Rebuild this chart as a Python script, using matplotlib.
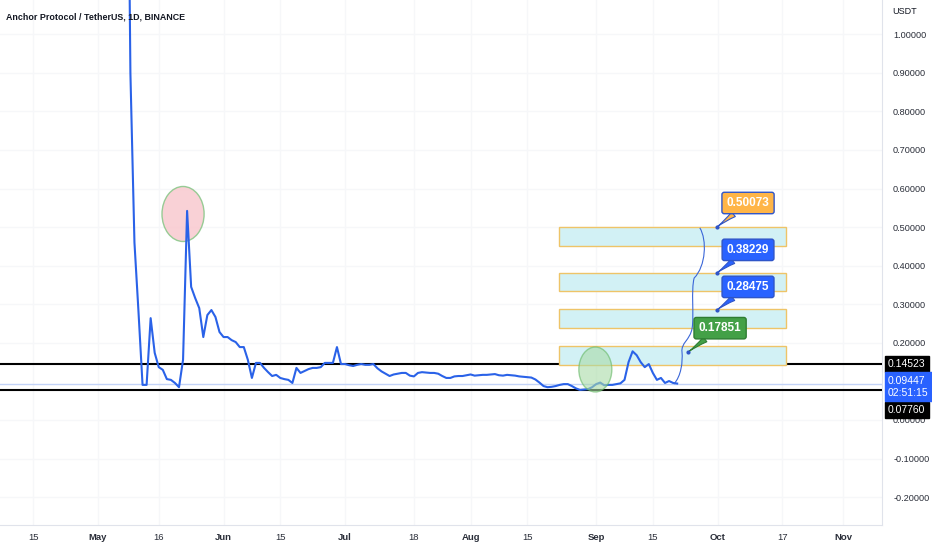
import datetime as dt

import matplotlib
matplotlib.use('Agg')
import matplotlib.pyplot as plt
import matplotlib.dates as mdates
import matplotlib.transforms as mtransforms
from matplotlib.patches import Ellipse, Rectangle, PathPatch
from matplotlib.path import Path

# --- data -----------------------------------------------------------------
start_date = dt.datetime(2022, 5, 8)
prices = [
    2.0, 0.90, 0.46, 0.28, 0.091, 0.091, 0.264, 0.174, 0.137, 0.130,
    0.106, 0.104, 0.096, 0.085, 0.156, 0.542, 0.345, 0.316, 0.290, 0.215,
    0.272, 0.285, 0.267, 0.228, 0.215, 0.215, 0.207, 0.202, 0.189, 0.189,
    0.156, 0.109, 0.148, 0.148, 0.135, 0.124, 0.114, 0.117, 0.109, 0.106,
    0.104, 0.096, 0.135, 0.122, 0.127, 0.132, 0.135, 0.135, 0.137, 0.148,
    0.148, 0.148, 0.189, 0.145, 0.145, 0.142, 0.140, 0.143, 0.145, 0.143,
    0.143, 0.145, 0.134, 0.126, 0.120, 0.114, 0.118, 0.120, 0.122, 0.122,
    0.115, 0.113, 0.122, 0.124, 0.123, 0.122, 0.122, 0.120, 0.114, 0.109,
    0.109, 0.113, 0.114, 0.114, 0.116, 0.118, 0.115, 0.116, 0.117, 0.117,
    0.118, 0.119, 0.116, 0.115, 0.117, 0.116, 0.115, 0.113, 0.112, 0.111,
    0.110, 0.105, 0.097, 0.088, 0.085, 0.086, 0.088, 0.091, 0.093, 0.093,
    0.088, 0.082, 0.078, 0.079, 0.080, 0.085, 0.093, 0.097, 0.090, 0.091,
    0.091, 0.093, 0.095, 0.104, 0.150, 0.178, 0.168, 0.150, 0.137, 0.145,
    0.122, 0.104, 0.109, 0.096, 0.101, 0.096, 0.09447,
]
dates = [start_date + dt.timedelta(days=i) for i in range(len(prices))]

tick_dates = ['2022-04-15', '2022-05-01', '2022-05-16', '2022-06-01',
              '2022-06-15', '2022-07-01', '2022-07-18', '2022-08-01',
              '2022-08-15', '2022-09-01', '2022-09-15', '2022-10-01',
              '2022-10-17', '2022-11-01']
tick_labels = ['15', 'May', '16', 'Jun', '15', 'Jul', '18', 'Aug',
               '15', 'Sep', '15', 'Oct', '17', 'Nov']
y_ticks = [1.0, 0.9, 0.8, 0.7, 0.6, 0.5, 0.4, 0.3, 0.2, 0.0, -0.1, -0.2]

support = 0.07760
resistance = 0.14523
last_price = 0.09447
countdown = '02:51:15'

fib_low = [0.143, 0.238, 0.334, 0.451]
fib_high = [0.192, 0.288, 0.381, 0.500]
fib_labels = ['0.17851', '0.28475', '0.38229', '0.50073']
fib_colors = ['#43a047', '#2962ff', '#2962ff', '#ffb547']

plt.rcParams['font.family'] = ['Liberation Sans', 'DejaVu Sans']

txt_color = '#131722'
grid_color = '#f6f7f9'
line_color = '#2a62e8'

fig = plt.figure(figsize=(9.32, 5.5), dpi=100)
ax = fig.add_axes([0, 25 / 550, 882 / 932, 525 / 550])

may1 = mdates.date2num(dt.datetime(2022, 5, 1))
px_day = 4.05
ax.set_xlim(may1 - 98 / px_day, may1 + 784 / px_day)
ax.set_ylim(-0.2722, 1.0887)

# grid
for v in y_ticks:
    ax.axhline(v, color=grid_color, lw=1, zorder=0)
for d in tick_dates:
    ax.axvline(mdates.datestr2num(d), color=grid_color, lw=1, zorder=0)

# highlight circles (under the line, semi transparent)
ax.add_patch(Ellipse((may1 + 21.0, 0.534), 10.4, 0.1426, fc='#f9c9cf', ec='#86c686',
                     lw=1, alpha=0.85, zorder=3))
ax.add_patch(Ellipse((may1 + 122.8, 0.1309), 8.15, 0.1166, fc='#a9dba7', ec='#66b866',
                     lw=1, alpha=0.6, zorder=6))

# price line
ax.plot(dates, prices, color=line_color, lw=1.5, zorder=5, solid_joinstyle='round')

# support / resistance / last price
ax.axhline(resistance, color='black', lw=1.5, zorder=3)
ax.axhline(support, color='black', lw=1.5, zorder=3)
ax.axhline(last_price, color='#c3d3f7', lw=1, zorder=2)

# fibonacci boxes
box_x0 = may1 + 113.8
box_x1 = may1 + 169.9
for lo, hi in zip(fib_low, fib_high):
    ax.add_patch(Rectangle((box_x0, lo), box_x1 - box_x0, hi - lo,
                           fc='#d2f1f5', ec='#eec468', lw=1, zorder=3))

# callout labels
tips = [(145.7, 0.176), (152.8, 0.285), (152.8, 0.381), (152.8, 0.500)]
boxes = [(153.6, 0.238), (160.5, 0.345), (160.5, 0.441), (160.5, 0.5625)]
for lab, col, tip, pos in zip(fib_labels, fib_colors, tips, boxes):
    edge = '#2e7d32' if col == '#43a047' else '#2f55c8'
    ax.annotate(lab, xy=(may1 + tip[0], tip[1]), xytext=(may1 + pos[0], pos[1]),
                ha='center', va='center', color='white', fontsize=8.5,
                fontweight='bold', zorder=7,
                bbox=dict(boxstyle='round,pad=0.4,rounding_size=0.2',
                          fc=col, ec=edge, lw=1),
                arrowprops=dict(arrowstyle='wedge,tail_width=0.5,shrink_factor=0.3',
                                fc=col, ec=edge, lw=0.8, shrinkA=0, shrinkB=0))
    ax.plot(may1 + tip[0], tip[1], 'o', ms=2, color='#2f55c8', zorder=8)

# curly brace from the last price up to the top box
brace = [(142.2, 0.0933), (144.0, 0.114), (144.4, 0.150), (144.2, 0.176),
         (143.9, 0.200), (146.2, 0.207), (146.7, 0.238),
         (147.2, 0.272), (146.4, 0.337), (147.2, 0.368),
         (150.1, 0.399), (150.4, 0.467), (148.6, 0.498)]
codes = [Path.MOVETO] + [Path.CURVE4] * (len(brace) - 1)
verts = [(may1 + d, v) for d, v in brace]
ax.add_patch(PathPatch(Path(verts, codes), fc='none', ec='#3a66d8', lw=0.8, zorder=5))

# axes styling
ax.set_xticks([mdates.datestr2num(d) for d in tick_dates])
ax.set_xticklabels(tick_labels)
for lab in ax.get_xticklabels():
    lab.set_fontweight('normal' if lab.get_text().isdigit() else 'bold')
ax.tick_params(axis='x', length=0, pad=6, labelsize=6.8, colors='#2a2e39')
ax.yaxis.tick_right()
ax.set_yticks(y_ticks)
ax.set_yticklabels(['%.5f' % v for v in y_ticks])
ax.tick_params(axis='y', length=0, pad=8, labelsize=6.6, colors='#2a2e39')
for s in ['top', 'left']:
    ax.spines[s].set_visible(False)
for s in ['right', 'bottom']:
    ax.spines[s].set_color('#e0e3eb')

# price-scale labels
yaxis_tr = mtransforms.blended_transform_factory(ax.transAxes, ax.transData)
for val, dy in [(resistance, 0), (support, -20)]:
    ax.annotate('%.5f' % val, xy=(1, val), xycoords=yaxis_tr, xytext=(6, dy),
                textcoords='offset pixels', ha='left', va='center', color='white',
                fontsize=7.5, zorder=9, annotation_clip=False,
                bbox=dict(boxstyle='square,pad=0.3', fc='black', ec='black'))
ax.annotate('%.5f\n%s' % (last_price, countdown), xy=(1, last_price), xycoords=yaxis_tr,
            xytext=(6, 8), textcoords='offset pixels', ha='left', va='top',
            color='white', fontsize=7.5, zorder=9, annotation_clip=False, linespacing=1.3,
            bbox=dict(boxstyle='square,pad=0.3', fc='#2962ff', ec='#2962ff'))

fig.text(892 / 932, 1 - 12 / 550, 'USDT', fontsize=6.5, color=txt_color, va='center')
fig.text(6 / 932, 1 - 17 / 550, 'Anchor Protocol / TetherUS, 1D, BINANCE',
         fontsize=6.4, fontweight='bold', color=txt_color, va='center')

fig.savefig('out.png', dpi=100)
